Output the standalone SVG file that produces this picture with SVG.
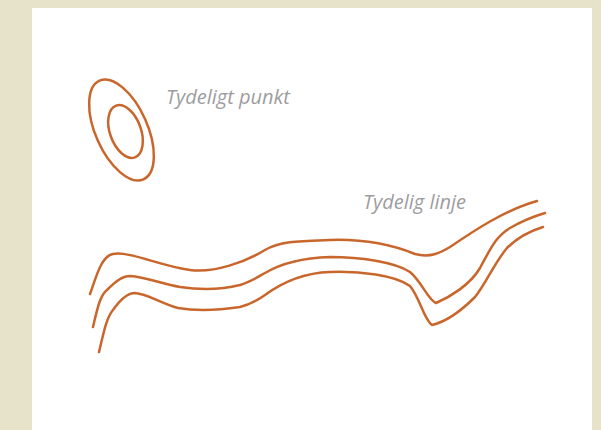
<svg xmlns="http://www.w3.org/2000/svg" width="601" height="430" viewBox="0 0 601 430">
<style>
.c{fill:none;stroke:#c8662c;stroke-width:2.5;stroke-linecap:round;stroke-linejoin:round}
.t{font-family:"Open Sans","Liberation Sans",sans-serif;font-style:italic;font-size:20px;fill:#9d9d9f}
</style>
<rect width="601" height="430" fill="#e7e3ca"/>
<rect x="32" y="8" width="560" height="422" fill="#ffffff"/>
<g id="point">
<ellipse class="c" cx="121.5" cy="130" rx="26" ry="54" transform="rotate(-24 121.5 130)"/>
<ellipse class="c" cx="125.5" cy="131.5" rx="15.5" ry="27.5" transform="rotate(-20 125.5 131.5)"/>
<text class="t" x="166" y="104">Tydeligt punkt</text>
</g>
<g id="line">
<path class="c" d="M90,294 C96,278 101,256 113,254 C130,251 160,266 190,270 C215,273 245,262 265,250 C280,241 300,241 330,240 C360,239 390,244 415,254 C430,258 440,253 450,247 C475,230 505,210 537,201"/>
<path class="c" d="M93,327 C97,310 100,295 107,290 C115,282 122,276 130,276 C145,277 160,283 180,287 C200,290 220,290 240,285 C250,282 258,277 265,273 C280,264 300,258 330,257 C360,257 395,262 410,272 C422,282 428,300 436,303 C450,297 470,285 480,268 C490,250 495,237 510,228 C522,221 535,216 545,213"/>
<path class="c" d="M99,352 C103,336 106,318 113,310 C120,300 127,293 135,293 C148,294 160,303 178,308 C195,311 220,310 240,307 C252,304 258,300 265,295 C280,284 300,273 330,272 C360,271 395,275 410,286 C420,298 424,320 432,325 C445,322 460,312 475,297 C485,285 495,262 507,248 C517,238 530,231 543,227"/>
<text class="t" x="363" y="209">Tydelig linje</text>
</g>
</svg>
